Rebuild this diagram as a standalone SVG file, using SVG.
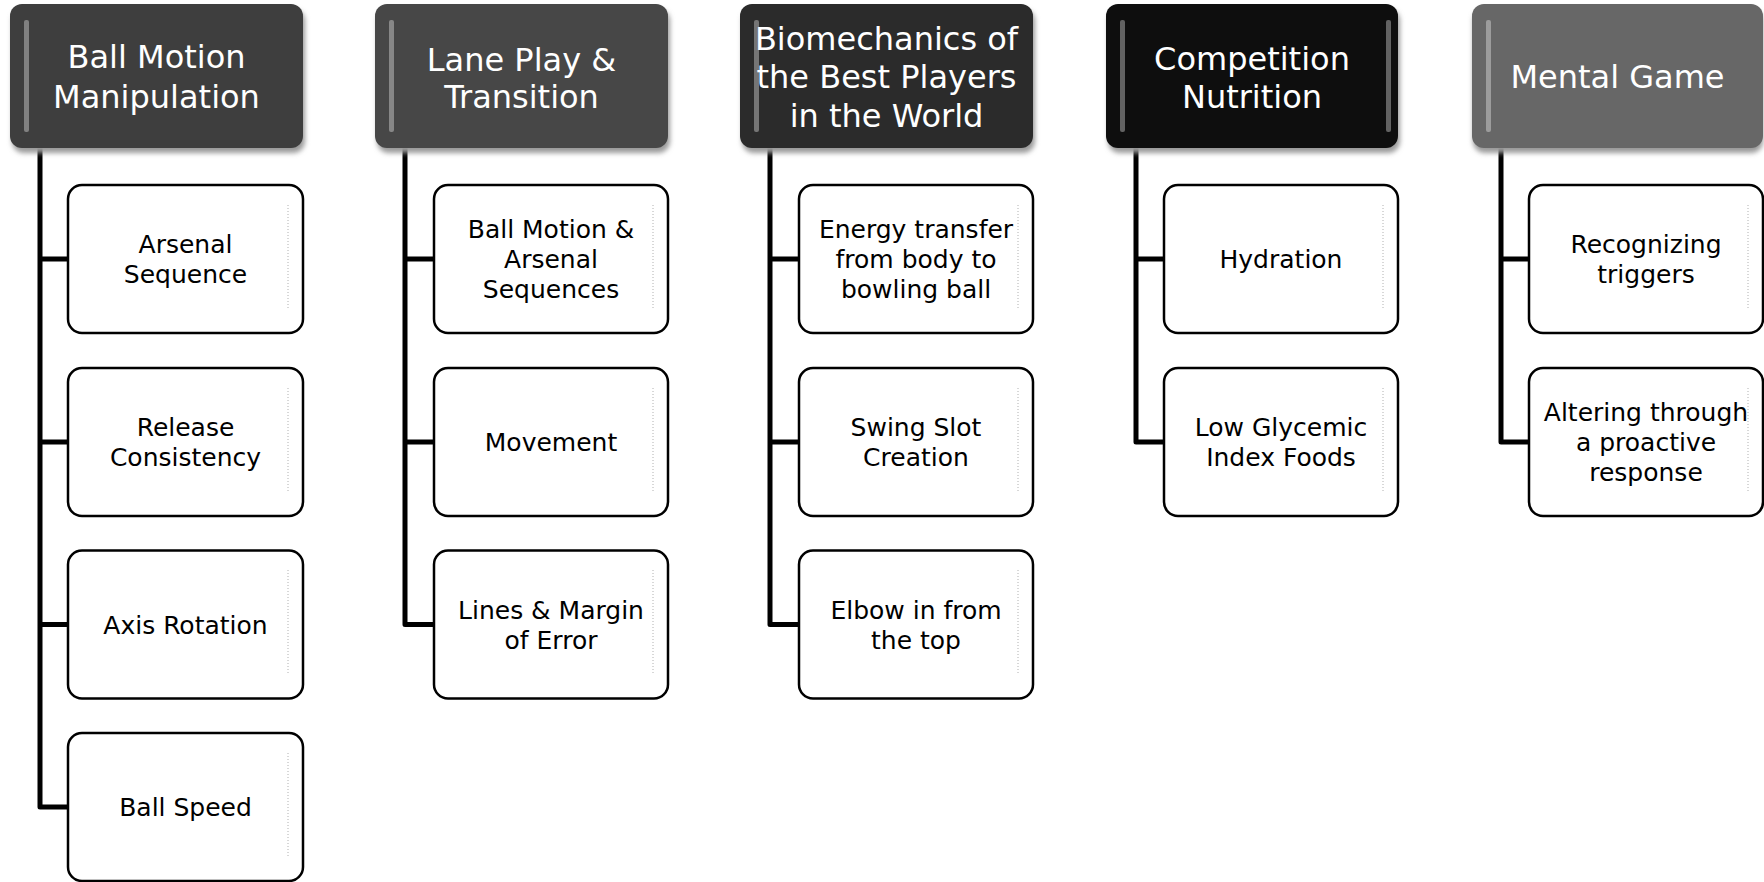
<svg xmlns="http://www.w3.org/2000/svg" width="1764" height="882" viewBox="0 0 1764 882">
<defs>
<style>
.hdr{stroke:none}
.hshadow{fill:#9a9a9a;filter:url(#blur)}
.stripe{fill:#ffffff;opacity:0.35}
.htext{font-family:"DejaVu Sans",sans-serif;font-size:32px;fill:#ffffff;text-anchor:middle}
.child{fill:#ffffff;stroke:#000000;stroke-width:2.5}
.inner{fill:none;stroke:#b0b0b0;stroke-width:1;stroke-dasharray:1 2}
.ctext{font-family:"DejaVu Sans",sans-serif;font-size:25px;fill:#000000;text-anchor:middle}
.conn{fill:none;stroke:#000000;stroke-width:5;stroke-linejoin:round}
</style>
<filter id="blur" x="-10%" y="-10%" width="120%" height="130%"><feGaussianBlur stdDeviation="2.5"/></filter>
</defs>
<rect width="1764" height="882" fill="#ffffff"/>

<g id="connectors">
<path class="conn" d="M40,148 V807 H68 M40,259 H68 M40,442 H68 M40,624.5 H68"/>
<path class="conn" d="M405,148 V624.5 H434 M405,259 H434 M405,442 H434"/>
<path class="conn" d="M770,148 V624.5 H799 M770,259 H799 M770,442 H799"/>
<path class="conn" d="M1136,148 V442 H1164 M1136,259 H1164"/>
<path class="conn" d="M1501,148 V442 H1529 M1501,259 H1529"/>
</g>

<!-- Column 1 -->
<g id="h1">
<rect class="hshadow" x="12" y="9" width="293" height="144" rx="12"/>
<rect class="hdr" x="10" y="4" width="293" height="144" rx="12" fill="#3e3e3e"/>
<rect class="stripe" x="24" y="20" width="5" height="112" rx="2"/>
<text class="htext" x="156.5" y="68">Ball Motion</text>
<text class="htext" x="156.5" y="108">Manipulation</text>
</g>
<g id="c1a">
<rect class="child" x="68" y="185" width="235" height="148" rx="14"/>
<line class="inner" x1="288" y1="205" x2="288" y2="308"/>
<text class="ctext" x="185.5" y="253">Arsenal</text>
<text class="ctext" x="185.5" y="283">Sequence</text>
</g>
<g id="c1b">
<rect class="child" x="68" y="368" width="235" height="148" rx="14"/>
<line class="inner" x1="288" y1="388" x2="288" y2="491"/>
<text class="ctext" x="185.5" y="436">Release</text>
<text class="ctext" x="185.5" y="466">Consistency</text>
</g>
<g id="c1c">
<rect class="child" x="68" y="550.5" width="235" height="148" rx="14"/>
<line class="inner" x1="288" y1="570" x2="288" y2="673"/>
<text class="ctext" x="185.5" y="633.5">Axis Rotation</text>
</g>
<g id="c1d">
<rect class="child" x="68" y="733" width="235" height="148" rx="14"/>
<line class="inner" x1="288" y1="753" x2="288" y2="856"/>
<text class="ctext" x="185.5" y="816">Ball Speed</text>
</g>

<!-- Column 2 -->
<g id="h2">
<rect class="hshadow" x="377" y="9" width="293" height="144" rx="12"/>
<rect class="hdr" x="375" y="4" width="293" height="144" rx="12" fill="#474747"/>
<rect class="stripe" x="389" y="20" width="5" height="112" rx="2"/>
<text class="htext" x="521.5" y="71">Lane Play &amp;</text>
<text class="htext" x="521.5" y="108">Transition</text>
</g>
<g id="c2a">
<rect class="child" x="434" y="185" width="234" height="148" rx="14"/>
<line class="inner" x1="653" y1="205" x2="653" y2="308"/>
<text class="ctext" x="551" y="238">Ball Motion &amp;</text>
<text class="ctext" x="551" y="268">Arsenal</text>
<text class="ctext" x="551" y="298">Sequences</text>
</g>
<g id="c2b">
<rect class="child" x="434" y="368" width="234" height="148" rx="14"/>
<line class="inner" x1="653" y1="388" x2="653" y2="491"/>
<text class="ctext" x="551" y="451">Movement</text>
</g>
<g id="c2c">
<rect class="child" x="434" y="550.5" width="234" height="148" rx="14"/>
<line class="inner" x1="653" y1="570" x2="653" y2="673"/>
<text class="ctext" x="551" y="618.5">Lines &amp; Margin</text>
<text class="ctext" x="551" y="648.5">of Error</text>
</g>

<!-- Column 3 -->
<g id="h3">
<rect class="hshadow" x="742" y="9" width="293" height="144" rx="12"/>
<rect class="hdr" x="740" y="4" width="293" height="144" rx="12" fill="#2b2b2b"/>
<rect class="stripe" x="754" y="20" width="5" height="112" rx="2"/>
<text class="htext" x="886.5" y="50">Biomechanics of</text>
<text class="htext" x="886.5" y="88">the Best Players</text>
<text class="htext" x="886.5" y="127">in the World</text>
</g>
<g id="c3a">
<rect class="child" x="799" y="185" width="234" height="148" rx="14"/>
<line class="inner" x1="1018" y1="205" x2="1018" y2="308"/>
<text class="ctext" x="916" y="238">Energy transfer</text>
<text class="ctext" x="916" y="268">from body to</text>
<text class="ctext" x="916" y="298">bowling ball</text>
</g>
<g id="c3b">
<rect class="child" x="799" y="368" width="234" height="148" rx="14"/>
<line class="inner" x1="1018" y1="388" x2="1018" y2="491"/>
<text class="ctext" x="916" y="436">Swing Slot</text>
<text class="ctext" x="916" y="466">Creation</text>
</g>
<g id="c3c">
<rect class="child" x="799" y="550.5" width="234" height="148" rx="14"/>
<line class="inner" x1="1018" y1="570" x2="1018" y2="673"/>
<text class="ctext" x="916" y="618.5">Elbow in from</text>
<text class="ctext" x="916" y="648.5">the top</text>
</g>

<!-- Column 4 -->
<g id="h4">
<rect class="hshadow" x="1108" y="9" width="292" height="144" rx="12"/>
<rect class="hdr" x="1106" y="4" width="292" height="144" rx="12" fill="#0e0e0e"/>
<rect class="stripe" x="1120" y="20" width="5" height="112" rx="2"/>
<rect class="stripe" x="1386" y="20" width="5" height="112" rx="2"/>
<text class="htext" x="1252" y="70">Competition</text>
<text class="htext" x="1252" y="108">Nutrition</text>
</g>
<g id="c4a">
<rect class="child" x="1164" y="185" width="234" height="148" rx="14"/>
<line class="inner" x1="1383" y1="205" x2="1383" y2="308"/>
<text class="ctext" x="1281" y="268">Hydration</text>
</g>
<g id="c4b">
<rect class="child" x="1164" y="368" width="234" height="148" rx="14"/>
<line class="inner" x1="1383" y1="388" x2="1383" y2="491"/>
<text class="ctext" x="1281" y="436">Low Glycemic</text>
<text class="ctext" x="1281" y="466">Index Foods</text>
</g>

<!-- Column 5 -->
<g id="h5">
<rect class="hshadow" x="1473" y="9" width="290" height="144" rx="12"/>
<rect class="hdr" x="1472" y="4" width="291" height="144" rx="12" fill="#676767"/>
<rect class="stripe" x="1486" y="20" width="5" height="112" rx="2"/>
<text class="htext" x="1617.5" y="88">Mental Game</text>
</g>
<g id="c5a">
<rect class="child" x="1529" y="185" width="234" height="148" rx="14"/>
<line class="inner" x1="1748" y1="205" x2="1748" y2="308"/>
<text class="ctext" x="1646" y="253">Recognizing</text>
<text class="ctext" x="1646" y="283">triggers</text>
</g>
<g id="c5b">
<rect class="child" x="1529" y="368" width="234" height="148" rx="14"/>
<line class="inner" x1="1748" y1="388" x2="1748" y2="491"/>
<text class="ctext" x="1646" y="421">Altering through</text>
<text class="ctext" x="1646" y="451">a proactive</text>
<text class="ctext" x="1646" y="481">response</text>
</g>
</svg>
